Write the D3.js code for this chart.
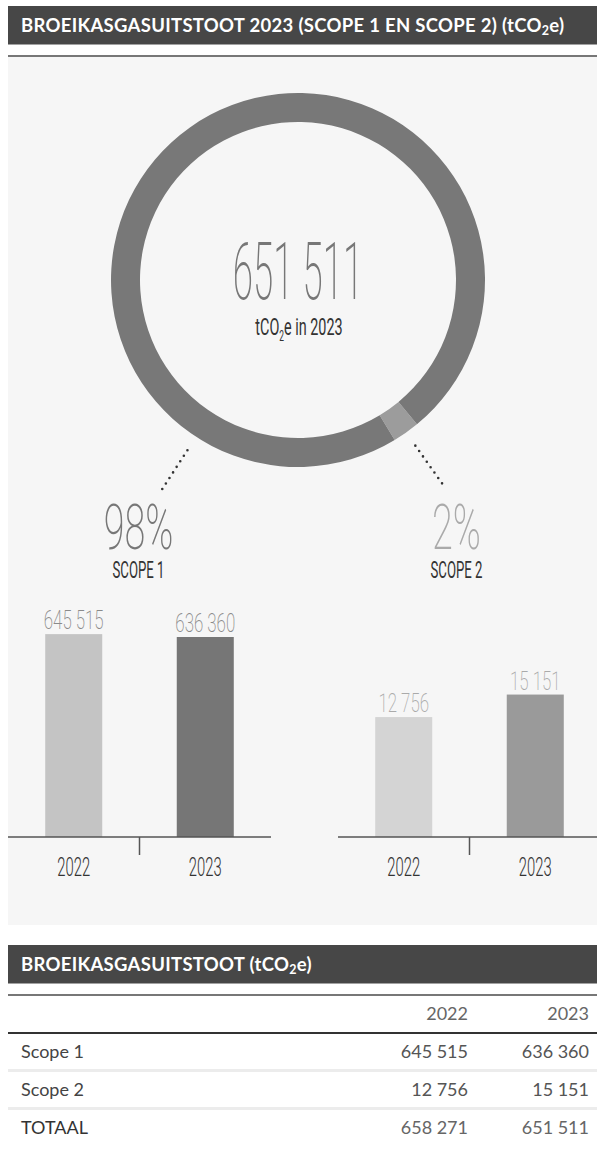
<!DOCTYPE html>
<html>
<head>
<meta charset="utf-8">
<script src="https://cdn.jsdelivr.net/npm/d3@7"></script>
<style>
  body { margin: 0; background: #fff; }
  svg { display: block; }
</style>
</head>
<body>
<div id="chart"></div>
<script>
// data
const years = ["2022", "2023"]
const scope1 = [645515, 636360]
const scope2 = [12756, 15151]
const totals = [658271, 651511]
const shares = [98, 2]
const scopeLabels = ["SCOPE 1", "SCOPE 2"]
const rowLabels = ["Scope 1", "Scope 2", "TOTAAL"]

const width = 597
const height = 1153

const nl = d3.formatLocale({decimal: ",", thousands: " ", grouping: [3], currency: ["€", ""]})
const fmt = nl.format(",d")

const svg = d3.select("#chart")
    .append("svg")
    .attr("width", width)
    .attr("height", height)

// condensed text: stretch Roboto horizontally
function cond(g, x, y, txt, size, sx, fill, weight) {
    return g.append("text")
        .attr("transform", `translate(${x},${y}) scale(${sx},1)`)
        .attr("text-anchor", "middle")
        .style("font-family", "Roboto")
        .style("font-size", size + "px")
        .style("font-weight", weight)
        .attr("fill", fill)
        .text(txt)
}

function headerBar(y, label) {
    const g = svg.append("g")
    g.append("rect")
        .attr("x", 8).attr("y", y)
        .attr("width", width - 8).attr("height", 38.5)
        .attr("fill", "#474747")
    const t = g.append("text")
        .attr("x", 21).attr("y", y + 25.5)
        .attr("fill", "#fff")
        .style("font-family", "Lato")
        .style("font-weight", 700)
        .style("font-size", "18.5px")
        .style("letter-spacing", "0.3px")
    t.append("tspan").text(label + " (tCO")
    t.append("tspan").attr("dy", 3.5).style("font-size", "12.5px").text("2")
    t.append("tspan").attr("dy", -3.5).text("e)")
    g.append("rect")
        .attr("x", 8).attr("y", y + 49)
        .attr("width", width - 8).attr("height", 2)
        .attr("fill", "#777")
}

// ---------- top panel
headerBar(6, "BROEIKASGASUITSTOOT 2023 (SCOPE 1 EN SCOPE 2)")

svg.append("rect")
    .attr("x", 8).attr("y", 57)
    .attr("width", width - 8).attr("height", 868)
    .attr("fill", "#f6f6f6")

// donut
const cx = 298, cy = 280
const outerR = 187, innerR = 158
const startA = 140.5 * Math.PI / 180

const pie = d3.pie().sort(null)
    .startAngle(startA)
    .endAngle(startA + 2 * Math.PI)
const arc = d3.arc().innerRadius(innerR).outerRadius(outerR)
const ringData = pie([scope2[1], scope1[1]])
const ringColors = ["#9c9c9c", "#787878"]

const layer_ring = svg.append("g").attr("transform", `translate(${cx},${cy})`)
layer_ring.selectAll("path")
    .data(ringData)
    .enter()
    .append("path")
    .attr("d", arc)
    .attr("fill", (d, i) => ringColors[i])

cond(svg, cx, 299, fmt(totals[1]), 80, 0.46, "#777", 200)

const sub = svg.append("text")
    .attr("transform", `translate(${cx + 1},335) scale(0.6,1)`)
    .attr("text-anchor", "middle")
    .style("font-family", "Roboto")
    .style("font-size", "24px")
    .attr("fill", "#333")
sub.append("tspan").text("tCO")
sub.append("tspan").attr("dy", 6).style("font-size", "14px").text("2")
sub.append("tspan").attr("dy", -6).text("e in " + years[1])

// leader dots
const s2 = ringData[0]
const leaderAngles = [213 * Math.PI / 180, (s2.startAngle + s2.endAngle) / 2]
const polar = (a, r) => [cx + r * Math.sin(a), cy - r * Math.cos(a)]
leaderAngles.forEach(a => {
    const p0 = polar(a, 203), p1 = polar(a, 251)
    svg.append("line")
        .attr("x1", p0[0]).attr("y1", p0[1])
        .attr("x2", p1[0]).attr("y2", p1[1])
        .attr("stroke", "#333")
        .attr("stroke-width", 2.6)
        .attr("stroke-linecap", "round")
        .attr("stroke-dasharray", "0,6.6")
})

const shareX = [138.5, 456.5]
const shareColors = ["#777", "#aaa"]
shares.forEach((s, i) => {
    cond(svg, shareX[i], 549, s + "%", 63, 0.6, shareColors[i], 200)
    cond(svg, shareX[i], 578, scopeLabels[i], 24, 0.55, "#333", 400)
})

// bar charts
const axisY = 837
function barChart(range, yMax, values, colors, labelColor) {
    const g = svg.append("g")
    const x = d3.scaleBand().domain(years).range(range)
        .paddingInner(0.5665).paddingOuter(0.283)
    const y = d3.scaleLinear().domain([0, yMax]).range([axisY, axisY - 220])

    g.selectAll("rect")
        .data(values)
        .enter()
        .append("rect")
        .attr("x", (d, i) => x(years[i]))
        .attr("y", d => y(d))
        .attr("width", x.bandwidth())
        .attr("height", d => axisY - y(d))
        .attr("fill", (d, i) => colors[i])

    values.forEach((v, i) => {
        cond(g, x(years[i]) + x.bandwidth() / 2, y(v) - 5, fmt(v), 26, 0.65, labelColor, 200)
        cond(g, x(years[i]) + x.bandwidth() / 2, 876, years[i], 26, 0.57, "#333", 300)
    })

    g.append("line")
        .attr("x1", range[0]).attr("x2", Math.min(range[1], width))
        .attr("y1", axisY).attr("y2", axisY)
        .attr("stroke", "#555").attr("stroke-width", 1.5)
    const mid = (range[0] + range[1]) / 2
    g.append("line")
        .attr("x1", mid).attr("x2", mid)
        .attr("y1", axisY).attr("y2", axisY + 18)
        .attr("stroke", "#555").attr("stroke-width", 1.5)
}

barChart([8, 271], 700000, scope1, ["#c4c4c4", "#767676"], "#8a8a8a")
barChart([338, 601], 23400, scope2, ["#d4d4d4", "#9a9a9a"], "#aaa")

// ---------- table
headerBar(945, "BROEIKASGASUITSTOOT")

const table = svg.append("g")
    .style("font-family", "Lato")
    .style("font-size", "18px")
const colX = [468, 589]
const rowY = [1058, 1096, 1134]
const rowVals = [scope1, scope2, totals]

years.forEach((yr, j) => {
    table.append("text")
        .attr("x", colX[j]).attr("y", 1020)
        .attr("text-anchor", "end")
        .attr("fill", "#666")
        .text(yr)
})

table.append("rect")
    .attr("x", 8).attr("y", 1032)
    .attr("width", width - 8).attr("height", 2)
    .attr("fill", "#333")

rowLabels.forEach((lab, i) => {
    const last = i === rowLabels.length - 1
    table.append("text")
        .attr("x", 21).attr("y", rowY[i])
        .attr("fill", last ? "#333" : "#444")
        .text(lab)
    rowVals[i].forEach((v, j) => {
        table.append("text")
            .attr("x", colX[j]).attr("y", rowY[i])
            .attr("text-anchor", "end")
            .attr("fill", last ? "#666" : "#555")
            .text(fmt(v))
    })
    if (!last) {
        table.append("rect")
            .attr("x", 8).attr("y", rowY[i] + 11)
            .attr("width", width - 8).attr("height", 3)
            .attr("fill", "#ececec")
    }
})
</script>
</body>
</html>
